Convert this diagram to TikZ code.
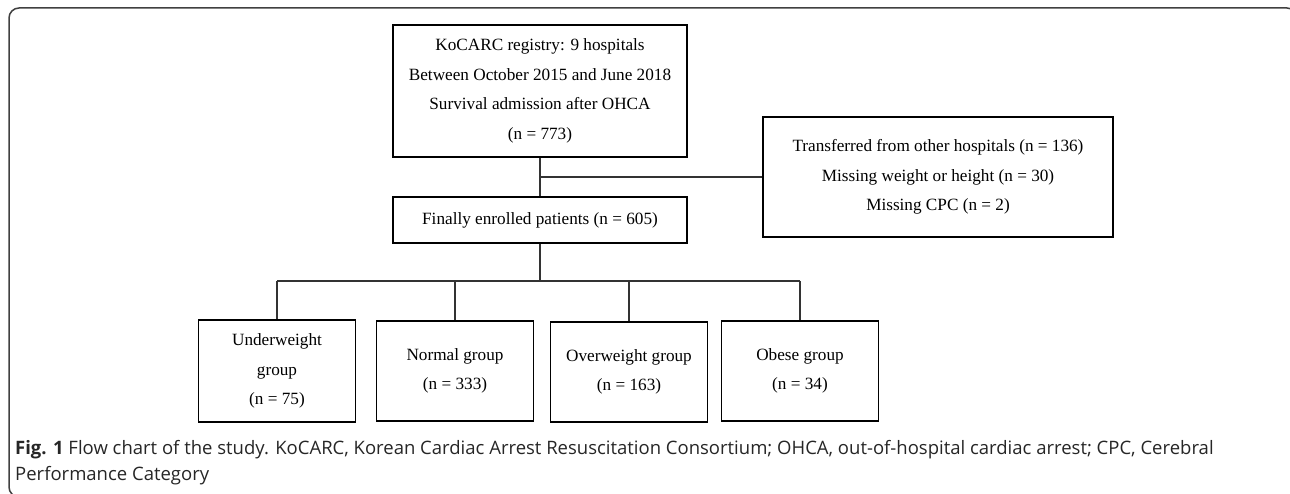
\documentclass[tikz,border=0pt]{standalone}
\usepackage{fontspec}
\setmainfont{Liberation Serif}
\newfontfamily\capfont{Open Sans}
\usepackage{tikz}
\usepackage{xcolor}

\begin{document}
\begin{tikzpicture}[x=1pt,y=-1pt,
        box/.style={draw,line width=1.2pt,inner sep=0pt,align=center,
            font=\fontsize{17.2}{29.5}\selectfont},
        link/.style={draw=black!80,line width=1.6pt}]
            \useasboundingbox (0,0) rectangle (1290,494);
            \begin{scope}
            \clip (0,0) rectangle (1290,494);
            \draw[black!75,line width=1.5pt,rounded corners=10pt] (9,8) rectangle (1297,497);
            \end{scope}
            % boxes
            \node[box,minimum width=294pt,minimum height=132pt] (reg) at (540,91)
                {KoCARC registry: 9 hospitals\\Between October 2015 and June 2018\\Survival admission after OHCA\\(n = 773)};
            \node[box,minimum width=350pt,minimum height=120pt] (excl) at (938,177)
                {Transferred from other hospitals (n = 136)\\Missing weight or height (n = 30)\\Missing CPC (n = 2)};
            \node[box,minimum width=294pt,minimum height=46pt] (final) at (540,220)
                {Finally enrolled patients (n = 605)};
            \node[box,minimum width=157pt,minimum height=102pt] (under) at (277,371)
                {Underweight\\group\\(n = 75)};
            \node[box,minimum width=157pt,minimum height=100pt] (normal) at (455,371)
                {Normal group\\(n = 333)};
            \node[box,minimum width=157pt,minimum height=100pt] (over) at (629,372)
                {Overweight group\\(n = 163)};
            \node[box,minimum width=157pt,minimum height=100pt] (obese) at (800,371)
                {Obese group\\(n = 34)};
            % lines
            \coordinate (split) at (540,281);
            \draw[link] (reg.south) -- (final.north);
            \draw[link] (reg.south |- excl.west) -- (excl.west);
            \draw[link] (final.south) -- (split);
            \draw[link] (under.north |- split) -- (obese.north |- split);
            \foreach \g in {under,normal,over,obese}
                \draw[link] (\g.north |- split) -- (\g.north);
            % caption
            \node[anchor=north west,align=left,inner sep=0pt,text=black!85,
                font=\capfont\fontsize{18.5}{26}\selectfont] (cap) at (15,440)
                {\textbf{Fig. 1} Flow chart of the study. KoCARC, Korean Cardiac Arrest Resuscitation Consortium; OHCA, out-of-hospital cardiac arrest; CPC, Cerebral\\Performance Category};
        \end{tikzpicture}
\end{document}
